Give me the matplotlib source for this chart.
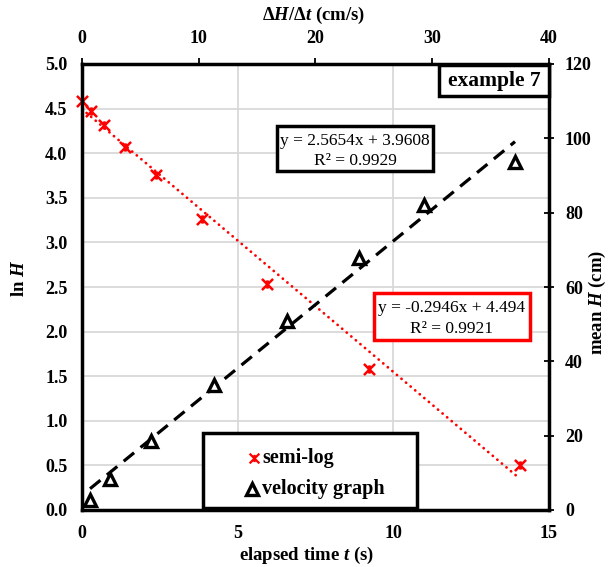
import matplotlib
matplotlib.use("Agg")
import matplotlib.pyplot as plt
from matplotlib.patches import Rectangle
from matplotlib.lines import Line2D
from matplotlib.path import Path
import numpy as np

plt.rcParams['font.family'] = ['Liberation Serif', 'DejaVu Serif']
plt.rcParams['mathtext.fontset'] = 'custom'
plt.rcParams['mathtext.rm'] = 'Liberation Serif:bold'
plt.rcParams['mathtext.it'] = 'Liberation Serif:bold:italic'
plt.rcParams['mathtext.bf'] = 'Liberation Serif:bold'

# semi-log data: elapsed time t (s) vs ln H
t_s = [0.0, 0.28, 0.70, 1.38, 2.37, 3.85, 5.94, 9.23, 14.07]
lnH = [4.59, 4.47, 4.32, 4.07, 3.76, 3.26, 2.53, 1.58, 0.51]
semi_slope, semi_icpt, semi_r2 = -0.2946, 4.494, 0.9921

# velocity graph data: dH/dt (cm/s) vs mean H (cm)
vel = [0.69, 2.40, 5.91, 11.31, 17.56, 23.73, 29.29, 37.09]
meanH = [2.7, 8.3, 18.6, 33.7, 50.8, 67.8, 82.1, 93.6]
vel_slope, vel_icpt, vel_r2 = 2.5654, 3.9608, 0.9929

t_ticks = [0, 5, 10, 15]
lnH_ticks = [0.0, 0.5, 1.0, 1.5, 2.0, 2.5, 3.0, 3.5, 4.0, 4.5, 5.0]
v_ticks = [0, 10, 20, 30, 40]
H_ticks = [0, 20, 40, 60, 80, 100, 120]

# Excel-style star marker: an X with a vertical bar
star = Path([(-1, -1), (1, 1), (-1, 1), (1, -1), (0, -0.75), (0, 0.75)],
            [Path.MOVETO, Path.LINETO, Path.MOVETO, Path.LINETO,
             Path.MOVETO, Path.LINETO])

W, H = 609, 567
fig = plt.figure(figsize=(W/100, H/100), dpi=100)
L, R, B, T = 82, 549, 510, 64
pos = [L/W, 1 - B/H, (R-L)/W, (B-T)/H]
ax = fig.add_axes(pos)
ax2 = fig.add_axes(pos, frameon=False)
ax2.patch.set_visible(False)

red = '#ff0000'
tick_fs = 13

# primary axes
ax.set_xlim(0, 15)
ax.set_ylim(0, 5)
ax.set_xticks(t_ticks)
ax.set_yticks(lnH_ticks)
ax.set_yticklabels([f"{v:.1f}" for v in lnH_ticks])
ax.tick_params(axis='both', length=0, labelsize=tick_fs)
ax.tick_params(axis='x', pad=11)
ax.tick_params(axis='y', pad=10.5)
for lab in ax.get_xticklabels() + ax.get_yticklabels():
    lab.set_fontweight('bold')
ax.grid(True, color='#d9d9d9', lw=1.3)
ax.set_axisbelow(True)
for s in ax.spines.values():
    s.set_linewidth(2.5)
    s.set_color('black')
    s.set_zorder(5)

tt = np.array([min(t_s), max(t_s)])
ax.plot(tt, semi_slope*tt + semi_icpt, color=red, lw=2.0,
        linestyle=(0, (0.05, 2.1)), dash_capstyle='round', zorder=2)
ax.plot(t_s, lnH, linestyle='none', marker=star, ms=8, mew=1.8,
        color=red, zorder=3, clip_on=False)

# secondary axes (top / right)
ax2.set_xlim(0, 40)
ax2.set_ylim(0, 120)
ax2.xaxis.set_ticks_position('top')
ax2.yaxis.set_ticks_position('right')
ax2.set_xticks(v_ticks)
ax2.set_yticks(H_ticks)
ax2.tick_params(axis='x', direction='out', length=4.5, width=1.3, pad=7.5,
                labelsize=tick_fs)
ax2.tick_params(axis='y', direction='inout', length=7, width=1.3, pad=8,
                labelsize=tick_fs)
for lab in ax2.get_xticklabels() + ax2.get_yticklabels():
    lab.set_fontweight('bold')

vv = np.array([min(vel), max(vel)])
ax2.plot(vv, vel_slope*vv + vel_icpt, color='black', lw=2.3,
         linestyle=(0, (4.2, 2.6)), zorder=2)
ax2.plot(vel, meanH, linestyle='none', marker='^', ms=8.5, mew=2.4,
         mfc='white', mec='black', zorder=3, clip_on=False)

# axis labels
lab_fs = 13.5
fig.text(306/W, 1 - 555/H, 'elapsed time $t$ (s)', ha='center', va='center',
         fontsize=lab_fs, fontweight='bold')
fig.text(314/W, 1 - 15/H, 'Δ$H$/Δ$t$ (cm/s)', ha='center', va='center',
         fontsize=lab_fs, fontweight='bold')
fig.text(19/W, 1 - 278/H, 'ln $H$', ha='center', va='center', rotation=90,
         fontsize=lab_fs, fontweight='bold')
fig.text(597/W, 1 - 302/H, 'mean $H$ (cm)', ha='center', va='center',
         rotation=90, fontsize=lab_fs, fontweight='bold')

def box(x0, x1, y0, y1, color):
    ax2.add_patch(Rectangle(((x0-L)/(R-L), (B-y1)/(B-T)),
                            (x1-x0)/(R-L), (y1-y0)/(B-T),
                            transform=ax2.transAxes, fill=True, fc='white',
                            ec=color, lw=2.5, zorder=6, clip_on=False))

def ptext(x, y, s, **kw):
    ax2.text((x-L)/(R-L), (B-y)/(B-T), s, transform=ax2.transAxes,
             zorder=7, **kw)

# trendline equation boxes
box(277, 433, 126, 171, 'black')
ptext(355, 141, f"y = {vel_slope:.4f}x + {vel_icpt:.4f}", ha='center',
      va='center', fontsize=12.5)
ptext(355, 161, f"R² = {vel_r2:.4f}", ha='center', va='center', fontsize=12.5)

box(374, 530, 293, 340, red)
ptext(452, 308, f"y = {semi_slope:.4f}x + {semi_icpt:.3f}", ha='center',
      va='center', fontsize=12.5)
ptext(452, 329, f"R² = {semi_r2:.4f}", ha='center', va='center',
      fontsize=12.5)

# example label
box(439, 549, 65, 96, 'black')
ptext(494, 81, 'example 7', ha='center', va='center', fontsize=15.5,
      fontweight='bold')

# legend
leg_fs = 14.5
box(203, 417, 433, 508, 'black')
ax2.add_line(Line2D([(254-L)/(R-L)], [(B-458)/(B-T)], transform=ax2.transAxes,
                    linestyle='none', marker=star, ms=7, mew=1.6,
                    color=red, zorder=8, clip_on=False))
ptext(262, 458, 'semi-log', ha='left', va='center', fontsize=leg_fs,
      fontweight='bold')
ax2.add_line(Line2D([(252-L)/(R-L)], [(B-489)/(B-T)], transform=ax2.transAxes,
                    linestyle='none', marker='^', ms=8.5, mew=2.4, mfc='white',
                    mec='black', zorder=8, clip_on=False))
ptext(262, 489, 'velocity graph', ha='left', va='center', fontsize=leg_fs,
      fontweight='bold')

fig.savefig('out.png', dpi=100)
